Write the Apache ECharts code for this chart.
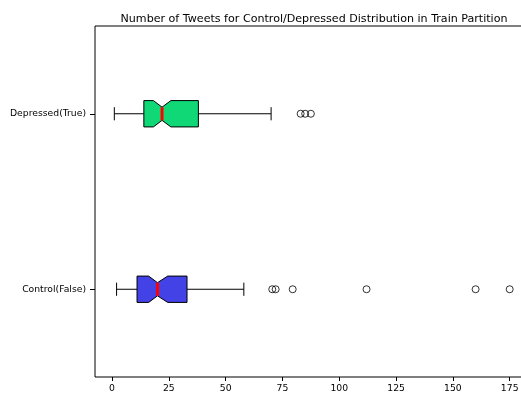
<!DOCTYPE html>
<html>
<head>
<meta charset="utf-8">
<script src="https://cdn.jsdelivr.net/npm/echarts@6/dist/echarts.min.js"></script>
<style>
  html, body { margin: 0; padding: 0; background: #fff; overflow: hidden; }
  #chart { width: 521px; height: 394px; }
</style>
</head>
<body>
<div id="chart"></div>
<script>
// Group labels, bottom to top
const categories = ['Control(False)', 'Depressed(True)'];

// Box statistics per group: [whiskerLow, q1, notchLow, median, notchHigh, q3, whiskerHigh]
const controlStats   = [2, 11, 16.1, 20, 24.5, 33, 58];
const depressedStats = [1, 14, 18.2, 22, 25.9, 38, 70];

// Points beyond the whiskers
const controlOutliers   = [70.5, 72, 79.5, 112, 160, 175];
const depressedOutliers = [83, 85, 87.5];

// Box fill colours
const boxColors = ['#4242e6', '#10d876'];

// Tick labels along the count axis
const xTicks = [0, 25, 50, 75, 100, 125, 150, 175];

const FONT = 'DejaVu Sans';

const boxData = [
  [0].concat(controlStats),
  [1].concat(depressedStats)
];

const outlierData = []
  .concat(controlOutliers.map(v => [v, 0]))
  .concat(depressedOutliers.map(v => [v, 1]));

function renderNotchedBox(params, api) {
  const cat = api.value(0);
  const lo = api.value(1), q1 = api.value(2), nlo = api.value(3),
        med = api.value(4), nhi = api.value(5), q3 = api.value(6), hi = api.value(7);
  const band = api.size([0, 1])[1];
  const half = band * 0.075;      // box half height
  const inset = half / 2;         // notch depth / cap half length
  const y = api.coord([0, cat])[1];
  const X = v => api.coord([v, cat])[0];
  const top = y - half, bot = y + half;
  const lineStyle = { stroke: '#000', lineWidth: 1, fill: null };
  const fill = boxColors[params.dataIndex];

  return {
    type: 'group',
    children: [
      // whiskers
      { type: 'line', shape: { x1: X(lo), y1: y, x2: X(q1), y2: y }, style: lineStyle },
      { type: 'line', shape: { x1: X(q3), y1: y, x2: X(hi), y2: y }, style: lineStyle },
      // caps
      { type: 'line', shape: { x1: X(lo), y1: y - inset, x2: X(lo), y2: y + inset }, style: lineStyle },
      { type: 'line', shape: { x1: X(hi), y1: y - inset, x2: X(hi), y2: y + inset }, style: lineStyle },
      // notched box
      {
        type: 'polygon',
        shape: {
          points: [
            [X(q1), top], [X(nlo), top], [X(med), top + inset], [X(nhi), top],
            [X(q3), top], [X(q3), bot], [X(nhi), bot], [X(med), bot - inset],
            [X(nlo), bot], [X(q1), bot]
          ]
        },
        style: { fill: fill, stroke: '#000', lineWidth: 1 }
      },
      // median
      {
        type: 'line',
        shape: { x1: X(med), y1: top + inset, x2: X(med), y2: bot - inset },
        style: { stroke: '#ff0000', lineWidth: 3 }
      }
    ]
  };
}

const chart = echarts.init(document.getElementById('chart'), null, { renderer: 'canvas' });

chart.setOption({
  animation: false,
  backgroundColor: '#fff',
  title: {
    text: 'Number of Tweets for Control/Depressed Distribution in Train Partition',
    left: 309,
    textAlign: 'center',
    top: 9,
    textStyle: { fontFamily: FONT, fontSize: 11.1, fontWeight: 'normal', color: '#000' }
  },
  grid: {
    left: 95, width: 434, top: 26, bottom: 17,
    outerBoundsMode: 'none',
    containLabel: false,
    show: true, borderColor: '#000', borderWidth: 1, backgroundColor: 'transparent'
  },
  xAxis: {
    type: 'value',
    min: -7.5,
    max: 183.5,
    splitLine: { show: false },
    axisLine: { show: false, onZero: false },
    axisTick: { show: true, length: 4, lineStyle: { color: '#000' }, customValues: xTicks },
    axisLabel: {
      customValues: xTicks,
      fontFamily: FONT, fontSize: 9.25, color: '#000', margin: 7
    }
  },
  yAxis: {
    type: 'category',
    data: categories,
    boundaryGap: true,
    axisLine: { show: false, onZero: false },
    axisTick: { show: true, alignWithLabel: true, length: 5, lineStyle: { color: '#000' } },
    axisLabel: { fontFamily: FONT, fontSize: 9.25, color: '#000', margin: 9 },
    splitLine: { show: false }
  },
  series: [
    {
      type: 'custom',
      renderItem: renderNotchedBox,
      encode: { y: 0, x: [1, 2, 3, 4, 5, 6, 7] },
      data: boxData,
      z: 2
    },
    {
      type: 'scatter',
      data: outlierData,
      symbol: 'circle',
      symbolSize: 7,
      itemStyle: { color: 'rgba(0,0,0,0)', borderColor: '#000', borderWidth: 1 },
      z: 3
    }
  ]
});
</script>
</body>
</html>
